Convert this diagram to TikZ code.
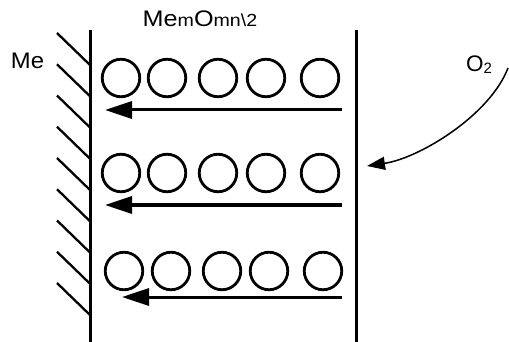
\documentclass[tikz,border=0pt]{standalone}
\usepackage{fontspec}
\setmainfont{Liberation Sans}
\newfontfamily\stretchfont[FakeStretch=1.12]{Liberation Sans}
\newfontfamily\widefont[FakeStretch=1.06]{Liberation Sans}
\usetikzlibrary{arrows.meta}
\begin{document}
\begin{tikzpicture}[x=1pt,y=-1pt,
  wall/.style={line width=3pt},
  hatch/.style={line width=2.3pt},
  ball/.style={circle,draw,line width=2.8pt,minimum size=37.5pt,inner sep=0pt},
  flow/.style={line width=3pt,-{Triangle[length=27pt,width=17pt]}},
  gas/.style={line width=1.5pt,-{Triangle[length=18pt,width=13pt]}},
  lab/.style={font=\fontsize{22.5}{25}\selectfont,inner sep=0pt}]
\useasboundingbox (0,0) rectangle (509,342);
% walls
\coordinate (lwt) at (90,30);
\coordinate (lwb) at (90,342);
\coordinate (rwt) at (356,30);
\coordinate (rwb) at (356,342);
\draw[wall] (lwt) -- (lwb);
\draw[wall] (rwt) -- (rwb);
% hatching
\foreach \k in {0,...,8}
  \draw[hatch] (57,{33+31.25*\k}) -- (90,{33+31.25*\k+32});
% circles
\foreach \x [count=\i] in {121,167,218,266,320}
  \node[ball] (a\i) at (\x,78) {};
\foreach \x [count=\i] in {121,167,218,266,320}
  \node[ball] (b\i) at (\x,173) {};
\foreach \x [count=\i] in {124,171,222,269,323}
  \node[ball] (c\i) at (\x,271) {};
% flow arrows
\coordinate (f1s) at (342,110); \coordinate (f1e) at (105,110);
\coordinate (f2s) at (342,205); \coordinate (f2e) at (105,205);
\coordinate (f3s) at (342,297); \coordinate (f3e) at (122,297);
\draw[flow] (f1s) -- (f1e);
\draw[flow] (f2s) -- (f2e);
\draw[flow] (f3s) -- (f3e);
% oxygen arrow
\coordinate (gs) at (508,68);
\coordinate (ge) at (367,166);
\draw[gas] (gs) .. controls (490,115) and (420,158) .. (ge);
% labels
\node[lab,anchor=base] (me) at (27.5,69) {\widefont Me};
\node[lab,anchor=base west] (formula) at (142.5,26.5) {\stretchfont Me{\fontsize{17.5}{19}\selectfont m}O{\fontsize{17.5}{19}\selectfont mn\textbackslash 2}};
\node[lab,anchor=base west] (o2) at (466,72) {O\raisebox{-1.5pt}{\fontsize{15}{15}\selectfont 2}};
\end{tikzpicture}
\end{document}
